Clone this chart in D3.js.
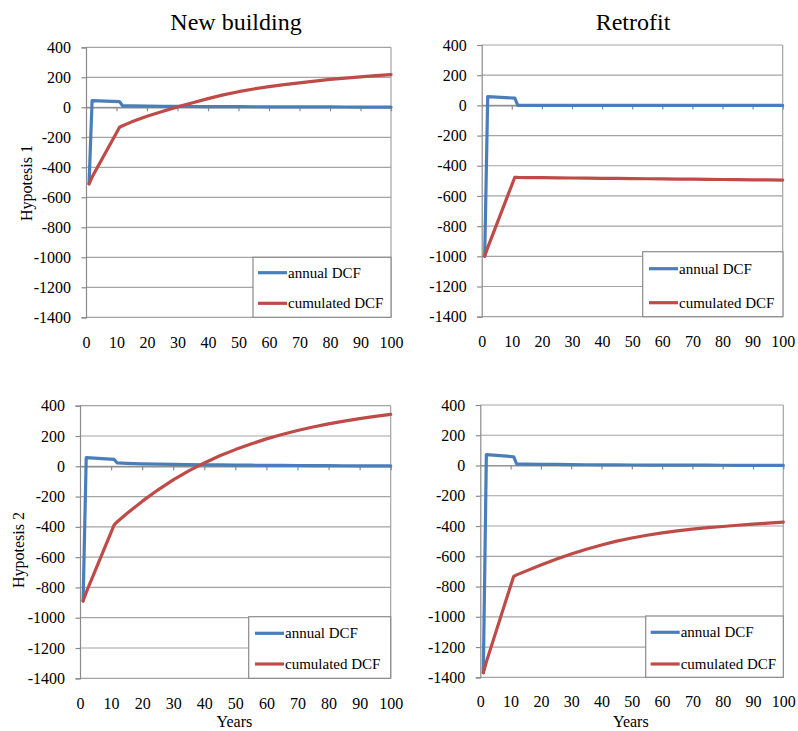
<!DOCTYPE html>
<html><head><meta charset="utf-8">
<script src="https://cdn.jsdelivr.net/npm/d3@7"></script>
<style>
body{margin:0;background:#fff}
svg{display:block}
text{font-family:"Liberation Serif","Times New Roman","DejaVu Serif",serif;fill:#000}
</style>
</head><body><svg id="c" width="798" height="731"></svg>
<script>
// ---------- data ----------
const years = [1, 2, 11, 12, 15, 20, 25, 30, 35, 40, 45, 50, 55, 60, 65, 70, 75, 80, 85, 90, 95, 100];
const yTicks = [400, 200, 0, -200, -400, -600, -800, -1000, -1200, -1400];
const xTicks = [0, 10, 20, 30, 40, 50, 60, 70, 80, 90, 100];
const seriesNames = ["annual DCF", "cumulated DCF"];
const colTitles = ["New building", "Retrofit"];
const rowTitles = ["Hypotesis 1", "Hypotesis 2"];
const xTitle = "Years";

// New building, Hypotesis 1
const nbH1Annual = [-510, 45, 38, 10, 9, 8, 7, 6, 5.5, 5, 4.5, 4, 3.6, 3.3, 3, 2.7, 2.4, 2.2, 2, 1.8, 1.6, 1.5];
const nbH1Cum    = [-510, -465, -133, -123, -97, -60, -28, 3, 30, 58, 83, 104, 122, 138, 151, 163, 175, 186, 195, 203, 211, 218];
// Retrofit, Hypotesis 1
const rtH1Annual = [-1000, 58, 48, 0, -0.3, -0.3, -0.3, -0.2, -0.2, -0.2, -0.2, -0.2, -0.2, -0.2, -0.2, -0.2, -0.2, -0.2, -0.2, -0.2, -0.2, -0.2];
const rtH1Cum    = [-1000, -942, -476, -477, -478, -479, -480, -481, -482, -483, -484, -485, -486, -487, -488, -489, -490, -491, -492, -493, -494, -495];
// New building, Hypotesis 2
const nbH2Annual = [-890, 57, 45, 22, 19, 16, 14, 12.5, 11, 10, 9, 8, 7, 6.3, 5.6, 5, 4.4, 3.9, 3.4, 3, 2.7, 2.4];
const nbH2Cum    = [-890, -833, -387, -366, -313, -232, -157, -90, -30, 22, 69, 110, 147, 181, 210, 236, 259, 280, 298, 315, 330, 343];
// Retrofit, Hypotesis 2
const rtH2Annual = [-1370, 72, 58, 10, 9, 8, 7, 6, 5, 4.5, 4, 3.5, 3, 2.7, 2.4, 2.1, 1.9, 1.7, 1.5, 1.3, 1.2, 1];
const rtH2Cum    = [-1370, -1298, -733, -723, -698, -657, -619, -585, -553, -525, -500, -479, -461, -445, -432, -421, -411, -403, -395, -388, -381, -374];

const colors = ["#4A7EBB", "#BE4B48"];

// ---------- layout ----------
const panels = [
  {series: [nbH1Annual, nbH1Cum], col: 0, row: 0, x0: 86, x1: 391, y0: 47.3, y1: 317.3, xlabBase: 348,
   leg: {x: 253, y: 257.3, w: 138, h: 60, lx: 258, ly: [272.7, 303.3]}},
  {series: [rtH1Annual, rtH1Cum], col: 1, row: 0, x0: 481.7, x1: 782.7, y0: 45, y1: 316.7, xlabBase: 347,
   leg: {x: 642.7, y: 251.7, w: 140.3, h: 65, lx: 649, ly: [268.7, 302.7]}},
  {series: [nbH2Annual, nbH2Cum], col: 0, row: 1, x0: 80, x1: 390.7, y0: 405.7, y1: 678.3, xlabBase: 709,
   leg: {x: 248.7, y: 616.7, w: 142, h: 61.6, lx: 255, ly: [633.3, 664]}},
  {series: [rtH2Annual, rtH2Cum], col: 1, row: 1, x0: 480.3, x1: 783.3, y0: 405, y1: 677.3, xlabBase: 707,
   leg: {x: 645.7, y: 616, w: 137.6, h: 61.3, lx: 650.7, ly: [632.3, 664]}}
];

const svg = d3.select("#c");
const gridCol = "#a3a3a3", axisCol = "#8a8a8a";
const serif = '"Liberation Serif","Times New Roman","DejaVu Serif",serif';

panels.forEach(p => {
  const x = d3.scaleLinear().domain([0, 100]).range([p.x0, p.x1]);
  const y = d3.scaleLinear().domain([-1400, 400]).range([p.y1, p.y0]);
  const g = svg.append("g");

  // gridlines
  g.append("g").selectAll("line").data(yTicks).join("line")
    .attr("x1", p.x0).attr("x2", p.x1)
    .attr("y1", d => y(d)).attr("y2", d => y(d))
    .attr("stroke", gridCol).attr("stroke-width", 1.2);
  // right border
  g.append("line").attr("x1", p.x1).attr("x2", p.x1).attr("y1", y(400)).attr("y2", y(-1400))
    .attr("stroke", gridCol).attr("stroke-width", 1.2);

  // y axis
  const ya = g.append("g").attr("transform", `translate(${p.x0},0)`)
    .call(d3.axisLeft(y).tickValues(yTicks).tickSize(4.5).tickPadding(10.5).tickFormat(d => String(d)));
  ya.attr("font-family", serif).attr("font-size", 16);
  ya.select(".domain").attr("stroke", axisCol).attr("stroke-width", 1.2);
  ya.selectAll(".tick line").attr("stroke", axisCol).attr("stroke-width", 1.2);
  ya.selectAll("text").style("font-size", "16px").style("font-family", serif).attr("fill", "#000");

  // x axis at zero (tick marks only)
  const xa = g.append("g").attr("transform", `translate(0,${y(0)})`)
    .call(d3.axisBottom(x).tickValues(xTicks.slice(1)).tickSize(4).tickSizeOuter(0).tickFormat(""));
  xa.select(".domain").attr("stroke", axisCol).attr("stroke-width", 1.2);
  xa.selectAll(".tick line").attr("stroke", axisCol).attr("stroke-width", 1.2);

  // x tick labels at bottom
  const xl = g.append("g").attr("transform", `translate(0,${p.y1})`)
    .call(d3.axisBottom(x).tickValues(xTicks).tickSize(0).tickPadding(0).tickFormat(d => String(d)));
  xl.attr("font-family", serif).attr("font-size", 16);
  xl.select(".domain").remove();
  xl.selectAll("text").attr("dy", null).attr("y", p.xlabBase - p.y1)
    .style("font-size", "16px").style("font-family", serif).attr("fill", "#000");

  // lines
  const line = d3.line().x((d, i) => x(years[i])).y(d => y(d));
  p.series.forEach((s, k) => {
    g.append("path").datum(s).attr("d", line)
      .attr("fill", "none").attr("stroke", colors[k]).attr("stroke-width", 3.2)
      .attr("stroke-linejoin", "round").attr("stroke-linecap", "round");
  });

  // legend
  const L = p.leg;
  g.append("rect").attr("x", L.x).attr("y", L.y).attr("width", L.w).attr("height", L.h)
    .attr("fill", "#fff").attr("stroke", axisCol).attr("stroke-width", 1.2);
  seriesNames.forEach((n, k) => {
    g.append("line").attr("x1", L.lx).attr("x2", L.lx + 29).attr("y1", L.ly[k]).attr("y2", L.ly[k])
      .attr("stroke", colors[k]).attr("stroke-width", 3.2);
    g.append("text").attr("x", L.lx + 30).attr("y", L.ly[k] + 5).style("font-size", "15px").text(n);
  });

  // x title on bottom row
  if (p.row === 1) {
    g.append("text").attr("x", (p.x0 + p.x1) / 2 - 1).attr("y", 727).attr("text-anchor", "middle")
      .style("font-size", "16px").text(xTitle);
  }
});

// column titles
svg.append("text").attr("x", 236).attr("y", 30).attr("text-anchor", "middle").style("font-size", "24px").text(colTitles[0]);
svg.append("text").attr("x", 633).attr("y", 30).attr("text-anchor", "middle").style("font-size", "24px").text(colTitles[1]);
// row titles
svg.append("text").attr("transform", "translate(32,183) rotate(-90)").attr("text-anchor", "middle").style("font-size", "16px").text(rowTitles[0]);
svg.append("text").attr("transform", "translate(24,550) rotate(-90)").attr("text-anchor", "middle").style("font-size", "16px").text(rowTitles[1]);
</script>
</body></html>
